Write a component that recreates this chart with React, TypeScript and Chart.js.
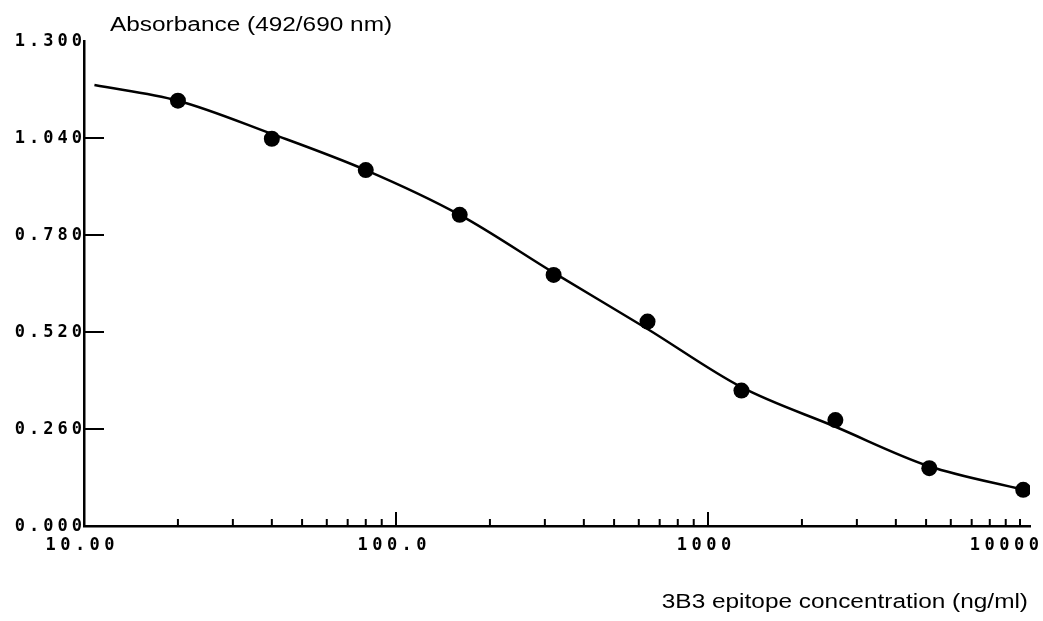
import React, { useEffect, useRef } from "react";
import { Chart, registerables } from "chart.js";

Chart.register(...registerables);

// Measured standards (concentration in ng/ml, absorbance 492/690 nm)
const concentrations = [20, 40, 80, 160, 320, 640, 1280, 2560, 5120, 10240];
const absorbance = [1.14, 1.038, 0.954, 0.834, 0.673, 0.548, 0.363, 0.284, 0.155, 0.097];

// Fitted curve
const curveX = [10.8, 20, 40, 80, 160, 320, 640, 1280, 2560, 5120, 10240];
const curveY = [1.182, 1.14, 1.051, 0.954, 0.834, 0.679, 0.528, 0.372, 0.266, 0.16, 0.097];

const yTicks = [0, 0.26, 0.52, 0.78, 1.04, 1.3];
const yTickLabels = ["0.000", "0.260", "0.520", "0.780", "1.040", "1.300"];
const xTicks = [10, 100, 1000, 10000];
const xTickLabels = ["10.00", "100.0", "1000", "10000"];
const minorMantissas = [2, 3, 4, 5, 6, 7, 8, 9];
const majorWithLongTick = [100, 1000];

const yTitle = "Absorbance (492/690 nm)";
const xTitle = "3B3 epitope concentration (ng/ml)";

const axisDecor = {
  id: "axisDecor",
  afterDraw(chart: any) {
    const { ctx } = chart;
    const x = chart.scales.x;
    const y = chart.scales.y;
    const left = x.left;
    const bottom = y.bottom;
    ctx.save();
    ctx.strokeStyle = "#000";
    ctx.fillStyle = "#000";
    ctx.lineWidth = 2;
    ctx.lineCap = "butt";

    // y tick marks (inward) and labels
    ctx.font = "bold 17px 'DejaVu Sans Mono'";
    (ctx as any).letterSpacing = "4px";
    ctx.textAlign = "right";
    ctx.textBaseline = "middle";
    yTicks.forEach((v, i) => {
      const py = y.getPixelForValue(v);
      if (v > 0 && v < 1.3) {
        ctx.beginPath();
        ctx.moveTo(left, py);
        ctx.lineTo(left + 20, py);
        ctx.stroke();
      }
      ctx.fillText(yTickLabels[i], left + 2, py + 1);
    });

    // x minor ticks
    const decades = [10, 100, 1000];
    decades.forEach((d) => {
      minorMantissas.forEach((m) => {
        const px = x.getPixelForValue(d * m);
        ctx.beginPath();
        ctx.moveTo(px, bottom);
        ctx.lineTo(px, bottom - 7);
        ctx.stroke();
      });
    });
    majorWithLongTick.forEach((v) => {
      const px = x.getPixelForValue(v);
      ctx.beginPath();
      ctx.moveTo(px, bottom);
      ctx.lineTo(px, bottom - 14);
      ctx.stroke();
    });
    {
      const px = x.getPixelForValue(10000);
      ctx.beginPath();
      ctx.moveTo(px, bottom);
      ctx.lineTo(px, bottom - 7);
      ctx.stroke();
    }

    // x labels
    (ctx as any).letterSpacing = "4.5px";
    ctx.textAlign = "left";
    ctx.textBaseline = "middle";
    xTicks.forEach((v, i) => {
      const w = ctx.measureText(xTickLabels[i]).width - 4.5;
      let cx = x.getPixelForValue(v) - 4;
      if (cx + w / 2 > chart.width - 4) cx = chart.width - 4 - w / 2;
      ctx.fillText(xTickLabels[i], cx - w / 2, bottom + 20);
    });

    // titles (horizontally stretched like the scanned original)
    (ctx as any).letterSpacing = "0px";
    ctx.font = "20px 'Liberation Sans'";
    ctx.textBaseline = "alphabetic";
    const sx = 1.22;
    ctx.save();
    ctx.scale(sx, 1);
    ctx.textAlign = "left";
    ctx.fillText(yTitle, 110 / sx, 31);
    ctx.textAlign = "right";
    ctx.fillText(xTitle, 1028 / sx, 608);
    ctx.restore();

    ctx.restore();
  },
};

export default function App() {
  const ref = useRef<HTMLCanvasElement | null>(null);
  useEffect(() => {
    if (!ref.current) return;
    const chart = new Chart(ref.current, {
      type: "scatter",
      data: {
        datasets: [
          {
            label: "fit",
            data: curveX.map((v, i) => ({ x: v, y: curveY[i] })),
            showLine: true,
            borderColor: "#000",
            borderWidth: 2.5,
            pointRadius: 0,
            cubicInterpolationMode: "monotone",
            order: 2,
          } as any,
          {
            label: "standards",
            data: concentrations.map((v, i) => ({ x: v, y: absorbance[i] })),
            showLine: false,
            pointRadius: 8,
            pointBackgroundColor: "#000",
            pointBorderWidth: 0,
            order: 1,
          } as any,
        ],
      },
      options: {
        responsive: false,
        animation: false,
        devicePixelRatio: 1,
        layout: { padding: { top: 41, right: 13, left: 0, bottom: 0 } },
        plugins: { legend: { display: false }, tooltip: { enabled: false }, title: { display: false } },
        scales: {
          x: {
            type: "logarithmic",
            min: 10,
            max: 10765,
            grid: { display: false },
            border: { display: true, color: "#000", width: 2.5 },
            ticks: { display: false },
            afterFit: (s: any) => {
              s.height = 95;
            },
          },
          y: {
            type: "linear",
            min: 0,
            max: 1.3,
            grid: { display: false },
            border: { display: true, color: "#000", width: 2.5 },
            ticks: { display: false },
            afterFit: (s: any) => {
              s.width = 84;
            },
          },
        },
      } as any,
      plugins: [axisDecor],
    });
    return () => chart.destroy();
  }, []);
  return (
    <div style={{ position: "absolute", left: 0, top: 0, width: 1043, height: 621, background: "#fff" }}>
      <canvas ref={ref} width={1043} height={621} />
    </div>
  );
}
